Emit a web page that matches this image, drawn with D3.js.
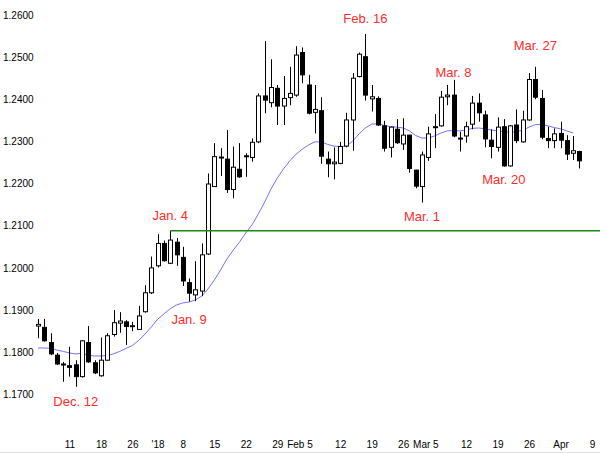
<!DOCTYPE html>
<html>
<head>
<meta charset="utf-8">
<script src="https://cdn.jsdelivr.net/npm/d3@7"></script>
<style>
html,body{margin:0;padding:0;background:#fff;}
svg{display:block;font-family:"Liberation Sans",Arial,sans-serif;}
</style>
</head>
<body>
<svg id="chart" width="600" height="453"></svg>
<script>
// Trading days (axis categories), Dec 4 2017 .. Apr 9 2018
const days = [
 "2017-12-04","2017-12-05","2017-12-06","2017-12-07","2017-12-08",
 "2017-12-11","2017-12-12","2017-12-13","2017-12-14","2017-12-15",
 "2017-12-18","2017-12-19","2017-12-20","2017-12-21","2017-12-22",
 "2017-12-26","2017-12-27","2017-12-28","2017-12-29",
 "2018-01-02","2018-01-03","2018-01-04","2018-01-05",
 "2018-01-08","2018-01-09","2018-01-10","2018-01-11","2018-01-12",
 "2018-01-15","2018-01-16","2018-01-17","2018-01-18","2018-01-19",
 "2018-01-22","2018-01-23","2018-01-24","2018-01-25","2018-01-26",
 "2018-01-29","2018-01-30","2018-01-31","2018-02-01","2018-02-02",
 "2018-02-05","2018-02-06","2018-02-07","2018-02-08","2018-02-09",
 "2018-02-12","2018-02-13","2018-02-14","2018-02-15","2018-02-16",
 "2018-02-19","2018-02-20","2018-02-21","2018-02-22","2018-02-23",
 "2018-02-26","2018-02-27","2018-02-28","2018-03-01","2018-03-02",
 "2018-03-05","2018-03-06","2018-03-07","2018-03-08","2018-03-09",
 "2018-03-12","2018-03-13","2018-03-14","2018-03-15","2018-03-16",
 "2018-03-19","2018-03-20","2018-03-21","2018-03-22","2018-03-23",
 "2018-03-26","2018-03-27","2018-03-28","2018-03-29","2018-03-30",
 "2018-04-02","2018-04-03","2018-04-04","2018-04-05","2018-04-06",
 "2018-04-09"
];

const open = [
 1.1862,1.1859,1.1823,1.1793,1.1772,
 1.1768,1.1770,1.1742,1.1823,1.1775,
 1.1744,1.1781,1.1842,1.1869,1.1872,
 1.1861,1.1854,1.1896,1.1941,
 1.2005,1.2058,1.2011,1.2061,
 1.2025,1.1965,1.1936,1.1945,1.2033,
 1.2193,1.2263,1.2258,1.2186,1.2234,
 1.2266,1.2262,1.2299,1.2408,1.2392,
 1.2426,1.2384,1.2404,1.2410,1.2511,
 1.2434,1.2369,1.2373,1.2258,1.2247,
 1.2248,1.2289,1.2351,1.2454,1.2501,
 1.2401,1.2402,1.2337,1.2286,1.2329,
 1.2294,1.2315,1.2232,1.2193,1.2262,
 1.2334,1.2337,1.2406,1.2410,1.2308,
 1.2313,1.2341,1.2391,1.2363,1.2303,
 1.2286,1.2335,1.2242,1.2339,1.2299,
 1.2351,1.2447,1.2402,1.2307,1.2302,
 1.2319,1.2302,1.2272,1.2276
];
const high = [
 1.1879,1.1879,1.1845,1.1798,1.1777,
 1.1813,1.1781,1.1829,1.1862,1.1781,
 1.1835,1.1845,1.1900,1.1895,1.1876,
 1.1872,1.1910,1.1959,1.2027,
 1.2080,1.2065,1.2088,1.2071,
 1.2050,1.1975,1.2016,1.2058,1.2224,
 1.2296,1.2284,1.2327,1.2288,1.2296,
 1.2272,1.2307,1.2414,1.2538,1.2495,
 1.2434,1.2455,1.2477,1.2526,1.2523,
 1.2458,1.2434,1.2405,1.2276,1.2286,
 1.2299,1.2368,1.2462,1.2511,1.2555,
 1.2434,1.2407,1.2349,1.2335,1.2353,
 1.2355,1.2316,1.2233,1.2276,1.2335,
 1.2365,1.2420,1.2434,1.2446,1.2323,
 1.2347,1.2408,1.2414,1.2373,1.2329,
 1.2357,1.2353,1.2339,1.2376,1.2373,
 1.2462,1.2477,1.2422,1.2335,1.2331,
 1.2347,1.2315,1.2313,1.2278
];
const low = [
 1.1833,1.1825,1.1793,1.1770,1.1730,
 1.1742,1.1718,1.1740,1.1775,1.1748,
 1.1742,1.1780,1.1837,1.1846,1.1817,
 1.1850,1.1853,1.1894,1.1938,
 1.2001,1.2015,1.2009,1.2005,
 1.1957,1.1920,1.1921,1.1933,1.2031,
 1.2193,1.2218,1.2178,1.2165,1.2214,
 1.2216,1.2252,1.2296,1.2367,1.2381,
 1.2339,1.2339,1.2386,1.2406,1.2438,
 1.2364,1.2319,1.2247,1.2215,1.2210,
 1.2246,1.2286,1.2278,1.2452,1.2397,
 1.2371,1.2337,1.2276,1.2262,1.2294,
 1.2280,1.2226,1.2189,1.2155,1.2254,
 1.2284,1.2335,1.2386,1.2310,1.2276,
 1.2297,1.2329,1.2347,1.2286,1.2260,
 1.2276,1.2240,1.2240,1.2296,1.2297,
 1.2349,1.2400,1.2305,1.2284,1.2284,
 1.2284,1.2256,1.2256,1.2236
];
const close = [
 1.1866,1.1827,1.1796,1.1772,1.1771,
 1.1764,1.1742,1.1827,1.1777,1.1751,
 1.1781,1.1839,1.1870,1.1874,1.1861,
 1.1863,1.1886,1.1941,1.2000,
 1.2058,1.2017,1.2066,1.2031,
 1.1969,1.1940,1.1948,1.2031,1.2199,
 1.2264,1.2262,1.2186,1.2239,1.2216,
 1.2264,1.2298,1.2408,1.2398,1.2428,
 1.2384,1.2402,1.2414,1.2505,1.2458,
 1.2367,1.2376,1.2265,1.2247,1.2251,
 1.2288,1.2351,1.2450,1.2507,1.2410,
 1.2406,1.2339,1.2284,1.2334,1.2297,
 1.2315,1.2236,1.2194,1.2268,1.2318,
 1.2335,1.2405,1.2410,1.2313,1.2307,
 1.2335,1.2391,1.2368,1.2306,1.2288,
 1.2334,1.2242,1.2337,1.2302,1.2351,
 1.2447,1.2405,1.2310,1.2302,1.2318,
 1.2303,1.2270,1.2278,1.2254
];
// 20-bar moving average (blue line)
const ma = [
 1.1810,1.1810,1.1809,1.1805,1.1802,
 1.1798,1.1796,1.1797,1.1793,1.1791,
 1.1791,1.1792,1.1796,1.1802,1.1809,
 1.1816,1.1828,1.1843,1.1860,
 1.1878,1.1891,1.1903,1.1912,
 1.1917,1.1919,1.1924,1.1933,1.1950,
 1.1971,1.1995,1.2021,1.2042,1.2061,
 1.2083,1.2102,1.2128,1.2156,1.2187,
 1.2213,1.2235,1.2254,1.2270,1.2282,
 1.2292,1.2299,1.2299,1.2293,1.2289,
 1.2288,1.2289,1.2301,1.2318,1.2332,
 1.2341,1.2342,1.2338,1.2335,1.2334,
 1.2332,1.2325,1.2314,1.2308,1.2308,
 1.2313,1.2320,1.2325,1.2326,1.2325,
 1.2327,1.2331,1.2332,1.2330,1.2327,
 1.2325,1.2323,1.2322,1.2323,1.2327,
 1.2334,1.2340,1.2340,1.2337,1.2333,
 1.2330,1.2325,1.2320
];

const yTicks = [1.17,1.18,1.19,1.20,1.21,1.22,1.23,1.24,1.25,1.26];
const xTickDays = ["2017-12-11","2017-12-18","2017-12-26","2018-01-02","2018-01-08","2018-01-15","2018-01-22","2018-01-29","2018-02-05","2018-02-12","2018-02-19","2018-02-26","2018-03-05","2018-03-12","2018-03-19","2018-03-26","2018-04-02","2018-04-09"];
const xTickLabels = ["11","18","26","'18","8","15","22","29","Feb 5","12","19","26","Mar 5","12","19","26","Apr","9"];

const resistanceLevel = 1.2088;
const resistanceStart = "2018-01-04";

const annotations = [
 {text:"Dec. 12", day:"2017-12-12", value:1.1673},
 {text:"Jan. 4", day:"2018-01-04", value:1.2113},
 {text:"Jan. 9", day:"2018-01-09", value:1.1866},
 {text:"Feb. 16", day:"2018-02-16", value:1.2582},
 {text:"Mar. 1", day:"2018-03-01", value:1.2111},
 {text:"Mar. 8", day:"2018-03-08", value:1.2452},
 {text:"Mar. 20", day:"2018-03-20", value:1.2199},
 {text:"Mar. 27", day:"2018-03-27", value:1.2518}
];

const svg = d3.select("#chart");
const x = d3.scalePoint().domain(days).range([38, 592]);
const y = d3.scaleLinear().domain([1.17, 1.26]).range([394.35, 15]);

// bottom rule
svg.append("line").attr("x1",0).attr("x2",600).attr("y1",452.5).attr("y2",452.5)
  .attr("stroke","#e4e4e4").attr("stroke-width",1);

// y axis labels
const yAxis = d3.axisRight(y).tickValues(yTicks).tickSize(0).tickPadding(3)
  .tickFormat(d3.format(".4f"));
const gy = svg.append("g").attr("transform","translate(0,0)").call(yAxis);
gy.select(".domain").remove();
gy.selectAll("text").attr("font-size",10).attr("fill","#000")
  .attr("font-family","'Liberation Sans',Arial,sans-serif");

// x axis labels
const labelMap = new Map(xTickDays.map((d,i)=>[d,xTickLabels[i]]));
const xAxis = d3.axisBottom(x).tickValues(xTickDays).tickSize(0).tickPadding(0)
  .tickFormat(d=>labelMap.get(d));
const gx = svg.append("g").attr("transform","translate(0,441)").call(xAxis);
gx.select(".domain").remove();
gx.selectAll("text").attr("font-size",10).attr("fill","#000")
  .attr("font-family","'Liberation Sans',Arial,sans-serif")
  .each(function(d){
    const t = labelMap.get(d);
    if (t.indexOf(" ")>0){ d3.select(this).attr("text-anchor","end").attr("dx",3.5); }
  });

// moving average
const maLine = d3.line().x((d,i)=>x(days[i])).y(d=>y(d));
svg.append("path").datum(ma).attr("d",maLine).attr("fill","none")
  .attr("stroke","#7373ff").attr("stroke-width",1);

// candles
const n = open.length;
const bars = d3.range(n).map(i=>({day:days[i],o:open[i],h:high[i],l:low[i],c:close[i]}));
const bw = 4;
const g = svg.append("g");
g.selectAll("line.wick").data(bars).join("line").attr("class","wick")
  .attr("x1",d=>Math.round(x(d.day))+0.5).attr("x2",d=>Math.round(x(d.day))+0.5)
  .attr("y1",d=>y(d.h)).attr("y2",d=>y(d.l))
  .attr("stroke","#000").attr("stroke-width",1);
g.selectAll("rect.body").data(bars).join("rect").attr("class","body")
  .attr("x",d=>Math.round(x(d.day))-bw/2+0.5)
  .attr("y",d=>y(Math.max(d.o,d.c)))
  .attr("width",bw)
  .attr("height",d=>Math.max(1,Math.abs(y(d.o)-y(d.c))))
  .attr("fill",d=>d.c>=d.o?"#fff":"#000")
  .attr("stroke","#000").attr("stroke-width",1);

// resistance line
svg.append("line")
  .attr("x1",x(resistanceStart)).attr("x2",600)
  .attr("y1",y(resistanceLevel)).attr("y2",y(resistanceLevel))
  .attr("stroke","#1a8a1a").attr("stroke-width",1.5);

// annotations
svg.selectAll("text.ann").data(annotations).join("text").attr("class","ann")
  .attr("x",d=>x(d.day)).attr("y",d=>y(d.value))
  .attr("text-anchor","middle").attr("font-size",13)
  .attr("fill","#ff2b2b")
  .attr("font-family","'Liberation Sans',Arial,sans-serif")
  .text(d=>d.text);
</script>
</body>
</html>
